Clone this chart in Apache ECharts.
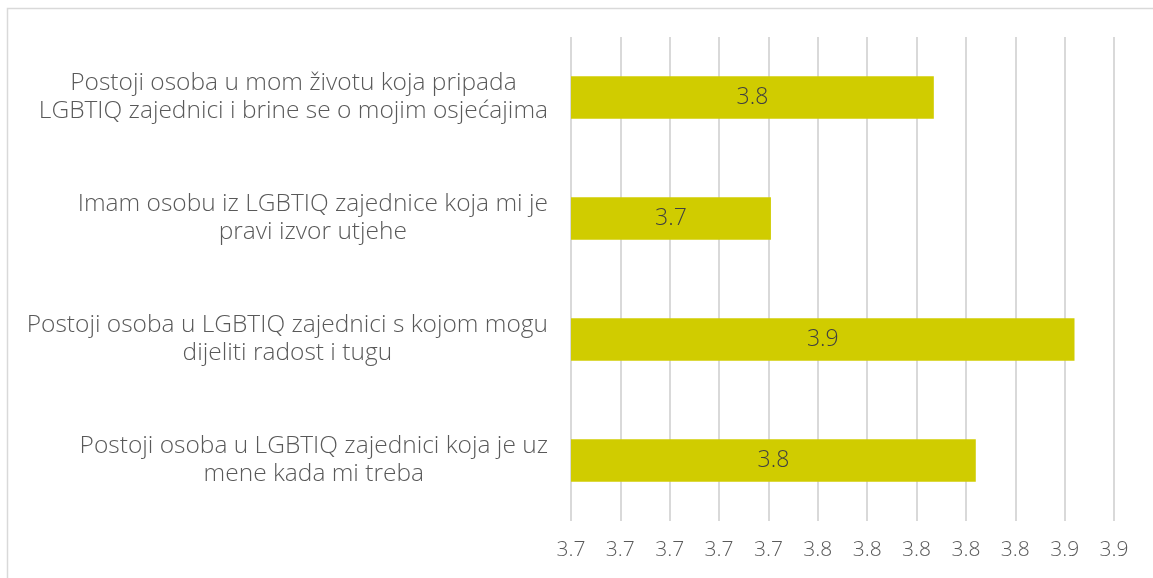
<!DOCTYPE html>
<html>
<head>
<meta charset="utf-8">
<script src="https://cdn.jsdelivr.net/npm/echarts@6/dist/echarts.min.js"></script>
<style>
  html, body { margin: 0; padding: 0; background: #fff; }
  #chart { width: 1153px; height: 578px; }
</style>
</head>
<body>
<div id="chart"></div>
<script>
var categories = [
  "Postoji osoba u mom životu koja pripada\nLGBTIQ zajednici i brine se o mojim osjećajima",
  "Imam osobu iz LGBTIQ zajednice koja mi je\npravi izvor utjehe",
  "Postoji osoba u LGBTIQ zajednici s kojom mogu\ndijeliti radost i tugu",
  "Postoji osoba u LGBTIQ zajednici koja je uz\nmene kada mi treba"
];
var values = [3.807, 3.741, 3.864, 3.824];
var axisMin = 3.66;
var axisMax = 3.88;
var axisStep = 0.02;

var chart = echarts.init(document.getElementById("chart"));
var font = "'Open Sans', sans-serif";

chart.setOption({
  backgroundColor: "#ffffff",
  animation: false,
  graphic: [
    {
      type: "rect",
      shape: { x: 7.5, y: 8.5, width: 1200, height: 620 },
      style: { fill: "none", stroke: "#d9d9d9", lineWidth: 1.5 },
      silent: true
    }
  ],
  grid: {
    left: 571,
    right: 39,
    top: 37,
    bottom: 57
  },
  xAxis: {
    type: "value",
    min: axisMin,
    max: axisMax,
    interval: axisStep,
    axisLine: { show: false },
    axisTick: { show: false },
    splitLine: {
      lineStyle: { color: "#d9d9d9", width: 2 }
    },
    axisLabel: {
      margin: 19,
      color: "#595959",
      fontFamily: font,
      fontWeight: 300,
      fontSize: 21,
      formatter: function (v) {
        return v.toFixed(1);
      }
    }
  },
  yAxis: {
    type: "category",
    inverse: true,
    data: categories,
    axisLine: { show: false },
    axisTick: { show: false },
    axisLabel: {
      margin: 23,
      color: "#595959",
      fontFamily: font,
      fontWeight: 300,
      fontSize: 24.5,
      lineHeight: 28,
      formatter: function (v) {
        return v.split("\n").map(function (l) {
          return "{c|" + l + "}";
        }).join("\n");
      },
      rich: {
        c: {
          align: "center",
          color: "#595959",
          fontFamily: font,
          fontWeight: 300,
          fontSize: 24.5,
          lineHeight: 28
        }
      }
    }
  },
  series: [
    {
      type: "bar",
      data: values,
      barCategoryGap: "65%",
      itemStyle: { color: "#d0cc00" },
      label: {
        show: true,
        position: "inside",
        color: "#404040",
        fontFamily: font,
        fontWeight: 300,
        fontSize: 23,
        formatter: function (p) {
          return p.value.toFixed(1);
        }
      }
    }
  ]
});
</script>
</body>
</html>
